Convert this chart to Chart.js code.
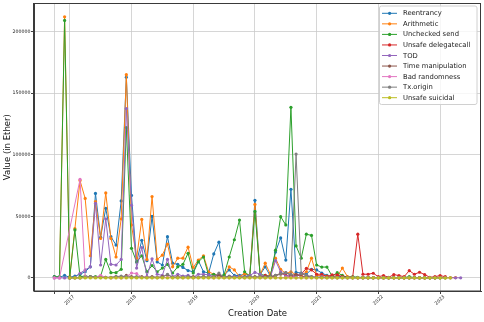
<!DOCTYPE html>
<html>
<head>
<meta charset="utf-8">
<style>
html,body{margin:0;padding:0;background:#fff;}
#wrap{width:484px;height:322px;position:relative;}
</style>
<script src="https://cdn.jsdelivr.net/npm/chart.js@4/dist/chart.umd.min.js"></script>
</head>
<body>
<div id="wrap"><canvas id="c" width="484" height="322"></canvas></div>
<script>
// ---- categories (monthly creation dates) ----
const months = [
 '2016-10','2016-11','2016-12',
 '2017-01','2017-02','2017-03','2017-04','2017-05','2017-06','2017-07','2017-08','2017-09','2017-10','2017-11','2017-12',
 '2018-01','2018-02','2018-03','2018-04','2018-05','2018-06','2018-07','2018-08','2018-09','2018-10','2018-11','2018-12',
 '2019-01','2019-02','2019-03','2019-04','2019-05','2019-06','2019-07','2019-08','2019-09','2019-10','2019-11','2019-12',
 '2020-01','2020-02','2020-03','2020-04','2020-05','2020-06','2020-07','2020-08','2020-09','2020-10','2020-11','2020-12',
 '2021-01','2021-02','2021-03','2021-04','2021-05','2021-06','2021-07','2021-08','2021-09','2021-10','2021-11','2021-12',
 '2022-01','2022-02','2022-03','2022-04','2022-05','2022-06','2022-07','2022-08','2022-09','2022-10','2022-11','2022-12',
 '2023-01','2023-02','2023-03','2023-04','2023-05'
];

// ---- tick labels ----
const yearTicks = ['2017','2018','2019','2020','2021','2022','2023'];
const extraTickMonths = ['2016-10'];
const yTicks = [0, 50000, 100000, 150000, 200000];

// ---- series values (Ether), one per month, null = no data ----
const reentrancy = [
 1000,500,2000,500,1500,3000,5000,9000,68600,33000,
 56500,33500,26700,62500,163000,67000,13000,30500,14000,50000,
 13000,10500,33500,12000,11000,8500,6000,5000,14000,5000,
 4000,19500,29000,2000,6500,2000,2000,3000,1500,63000,
 2500,9000,1500,21000,32500,14500,72000,4500,4000,3000,
 7000,6500,4000,2000,1000,1500,1000,500,500,300,
 500,300,200,400,200,300,200,100,300,200,
 200,100,300,100,200,null,null,null,null,null];
const arithmetic = [
 null,500,212000,1000,40000,79000,64500,18000,62000,32000,
 69000,32000,17000,48000,165000,43000,16000,47500,15000,66000,
 15000,18500,27500,9000,16000,16000,25000,8500,14500,18000,
 5000,3000,2000,1500,9000,6500,1000,3500,2000,59700,
 2500,12000,3000,16000,7000,3500,5000,2500,2000,5000,
 16000,2000,2000,1500,500,1000,8000,1000,500,300,
 300,200,300,200,100,200,100,200,100,200,
 100,200,100,100,200,100,100,200,300,null];
const uncheckedSend = [
 1000,1000,209000,500,39000,1000,1500,1000,1000,1500,
 15000,4300,4300,7000,122000,24000,13000,18000,5000,10000,
 5000,8000,11000,4000,9000,11000,20000,4000,13000,17000,
 2000,3000,1000,2500,17000,31000,47000,5000,1500,54000,
 3000,2000,1500,22500,49700,43000,138500,26000,16000,35500,
 34500,10500,8800,8800,1500,4300,2000,500,1000,500,
 300,500,200,300,200,100,300,200,300,1000,
 300,200,100,200,100,200,100,null,null,null];
const unsafeDelegatecall = [
 null,null,null,null,null,null,null,null,null,null,
 null,null,null,null,null,null,null,null,null,null,
 null,null,null,null,null,null,null,null,null,null,
 null,null,null,null,null,null,null,null,null,null,
 500,2000,1000,1500,4000,2000,1000,2000,3000,7800,
 6500,3000,3000,1000,2500,2500,1000,500,500,35500,
 3000,3000,3800,1000,1900,500,2700,1900,1000,5900,
 3000,4600,2700,500,1000,1900,1000,null,null,null];
const tod = [
 0,0,0,0,500,3800,6500,9000,60500,10500,
 48000,11000,10500,15000,137500,59000,8000,24600,1000,15500,
 3000,2000,15000,1000,3000,1500,2000,500,3000,3000,
 2500,1000,3000,500,1500,1000,1000,500,2000,4500,
 3000,1000,500,14000,5000,1500,2000,1000,4000,2000,
 1000,500,1000,300,500,200,300,100,200,100,
 200,100,200,100,100,200,100,100,200,100,
 100,200,100,100,100,100,200,100,100,100];
const timeManipulation = [
 null,null,null,0,0,0,500,1000,500,1000,
 500,500,1000,500,2000,1000,500,1000,500,1000,
 500,1000,2500,500,1000,500,500,1000,500,1000,
 500,1000,2000,500,1000,500,500,1000,500,1000,
 500,1000,1000,2000,3000,4300,2000,3000,1000,1500,
 500,500,500,300,500,300,200,300,200,100,
 200,100,100,200,100,100,200,100,100,100,
 200,100,100,100,100,null,null,null,null,null];
const badRandomness = [
 0,0,null,null,null,80000,1000,500,500,2000,
 500,0,500,0,1000,4000,3500,500,500,300,
 200,300,500,200,300,200,300,100,200,300,
 200,100,300,200,100,200,300,100,200,300,
 200,100,200,300,100,200,300,100,200,100,
 200,100,100,200,100,100,200,100,100,100,
 100,200,100,100,100,100,100,200,100,100,
 100,100,100,100,100,null,null,null,null,null];
const txOrigin = [
 null,null,null,0,200,300,500,1000,500,300,
 500,300,1000,1500,1000,500,1000,500,300,500,
 300,500,3000,500,300,500,1000,300,500,1000,
 500,1000,4000,500,1000,500,300,500,1000,500,
 1000,500,1000,2000,3500,4300,3000,100500,3500,2000,
 1000,500,300,500,300,200,300,200,100,200,
 100,200,100,100,200,100,100,200,100,100,
 200,100,100,100,100,100,null,null,null,null];
const unsafeSuicidal = [
 null,null,null,0,0,0,0,0,0,0,
 0,0,0,0,0,0,0,0,0,0,
 0,0,0,0,0,0,0,0,0,0,
 0,0,0,0,0,0,0,0,0,0,
 0,0,0,0,0,0,0,0,0,0,
 0,0,0,0,0,0,0,0,0,0,
 0,0,0,0,0,0,0,0,0,0,
 0,0,0,0,0,0,0,0,null,null];

const seriesNames = ['Reentrancy','Arithmetic','Unchecked send','Unsafe delegatecall','TOD',
  'Time manipulation','Bad randomness','Tx.origin','Unsafe suicidal'];
const seriesValues = [reentrancy, arithmetic, uncheckedSend, unsafeDelegatecall, tod,
  timeManipulation, badRandomness, txOrigin, unsafeSuicidal];
const colors = ['#1f77b4','#ff7f0e','#2ca02c','#d62728','#9467bd','#8c564b','#e377c2','#7f7f7f','#bcbd22'];

const FONT = '"DejaVu Sans", sans-serif';

const datasets = seriesValues.map((vals, k) => ({
  label: seriesNames[k],
  data: vals.map((v, i) => ({x: i, y: v})),
  borderColor: colors[k],
  backgroundColor: colors[k],
  borderWidth: 1,
  pointRadius: 1.6,
  pointBorderWidth: 0,
  pointHoverRadius: 1.6,
  spanGaps: true,
  tension: 0,
  order: -k
}));

// tick positions on the month axis
const xTickValues = extraTickMonths.map(m => months.indexOf(m))
  .concat(yearTicks.map(y => months.indexOf(y + '-01')));
function xLabel(v) {
  const m = months[Math.round(v)];
  if (m && m.endsWith('-01')) return m.slice(0, 4);
  return '';
}

const framePlugin = {
  id: 'frame',
  afterDatasetsDraw(chart) {
    const {ctx, chartArea: a} = chart;
    ctx.save();
    ctx.strokeStyle = '#3a3a3a';
    ctx.lineWidth = 1;
    ctx.strokeRect(Math.round(a.left) - 0.5, Math.round(a.top) + 0.5,
                   Math.round(a.right - a.left), Math.round(a.bottom - a.top) - 0.5);
    ctx.restore();
  }
};

const legendPlugin = {
  id: 'mplLegend',
  afterDraw(chart) {
    const ctx = chart.ctx;
    const bx = 379.5, by = 6, bw = 97.5, bh = 98.5, r = 2;
    ctx.save();
    ctx.beginPath();
    ctx.moveTo(bx + r, by);
    ctx.lineTo(bx + bw - r, by); ctx.quadraticCurveTo(bx + bw, by, bx + bw, by + r);
    ctx.lineTo(bx + bw, by + bh - r); ctx.quadraticCurveTo(bx + bw, by + bh, bx + bw - r, by + bh);
    ctx.lineTo(bx + r, by + bh); ctx.quadraticCurveTo(bx, by + bh, bx, by + bh - r);
    ctx.lineTo(bx, by + r); ctx.quadraticCurveTo(bx, by, bx + r, by);
    ctx.closePath();
    ctx.fillStyle = 'rgba(255,255,255,0.8)';
    ctx.fill();
    ctx.strokeStyle = '#d0d0d0';
    ctx.lineWidth = 1;
    ctx.stroke();
    chart.data.datasets.forEach((ds, k) => {
      const cy = 13.3 + k * 10.55;
      ctx.strokeStyle = ds.borderColor;
      ctx.lineWidth = 1;
      ctx.beginPath(); ctx.moveTo(382, cy); ctx.lineTo(397, cy); ctx.stroke();
      ctx.fillStyle = ds.borderColor;
      ctx.beginPath(); ctx.arc(389.6, cy, 1.6, 0, Math.PI * 2); ctx.fill();
      ctx.fillStyle = '#1a1a1a';
      ctx.font = '6.8px ' + FONT;
      ctx.textBaseline = 'middle';
      ctx.textAlign = 'left';
      ctx.fillText(ds.label, 403, cy + 0.3);
    });
    ctx.restore();
  }
};

const gridColor = 'rgba(200,200,200,0.75)';

new Chart(document.getElementById('c').getContext('2d'), {
  type: 'line',
  data: { datasets },
  options: {
    responsive: false,
    animation: false,
    devicePixelRatio: 1,
    layout: { padding: { top: 3, right: 3, left: 0, bottom: 0 } },
    plugins: { legend: { display: false }, tooltip: { enabled: false } },
    scales: {
      x: {
        type: 'linear',
        min: -3.95,
        max: 82.95,
        afterBuildTicks: s => { s.ticks = xTickValues.map(v => ({ value: v })); },
        afterFit: s => { s.height = 31; },
        ticks: {
          autoSkip: false,
          maxRotation: 45,
          minRotation: 45,
          padding: 0,
          labelOffset: 4,
          color: '#222',
          font: { size: 4.7, family: FONT },
          callback: v => xLabel(v)
        },
        grid: { color: gridColor, lineWidth: 1, tickColor: '#444', tickLength: 3, drawTicks: true },
        border: { color: '#3a3a3a', width: 1 },
        title: {
          display: true, text: 'Creation Date', color: '#111',
          font: { size: 8.5, family: FONT },
          padding: { top: 0, bottom: 3.4 }
        }
      },
      y: {
        type: 'linear',
        min: -10615,
        max: 222915,
        afterBuildTicks: s => { s.ticks = yTicks.map(v => ({ value: v })); },
        afterFit: s => { s.width = 34; },
        ticks: {
          padding: 0.5,
          color: '#222',
          font: { size: 4.7, family: FONT },
          callback: v => String(v)
        },
        grid: { color: gridColor, lineWidth: 1, tickColor: '#444', tickLength: 3 },
        border: { color: '#3a3a3a', width: 1 },
        title: {
          display: true, text: 'Value (in Ether)', color: '#111',
          font: { size: 8.5, family: FONT },
          padding: { top: 2.6, bottom: 0 }
        }
      }
    }
  },
  plugins: [framePlugin, legendPlugin]
});
</script>
</body>
</html>
